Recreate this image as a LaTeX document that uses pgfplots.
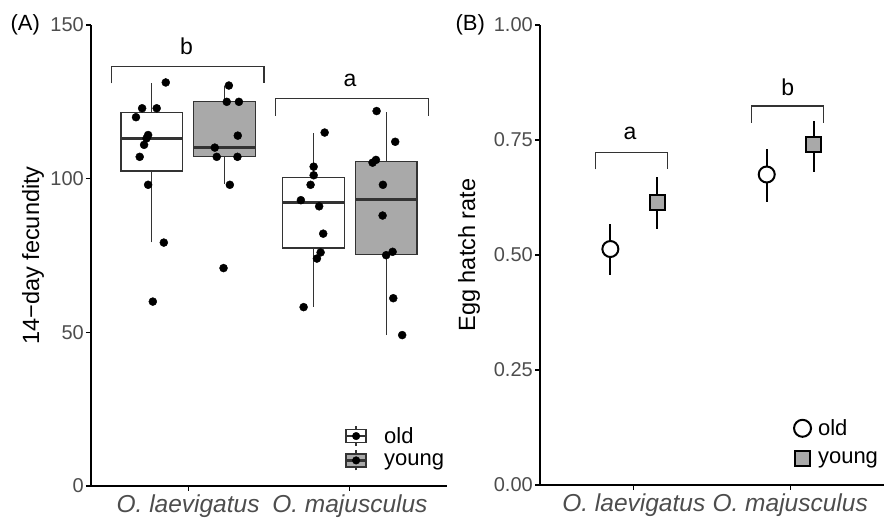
\documentclass[border=0pt]{standalone}
\usepackage{fontspec}
\setmainfont{Liberation Sans}
\usepackage{pgfplots}
\pgfplotsset{compat=1.18}
\definecolor{boxgrey}{HTML}{A9A9A9}
\definecolor{gtxt}{HTML}{4D4D4D}
\definecolor{gline}{HTML}{333333}
\pgfplotsset{
 panel/.style={
  scale only axis, axis lines=left, axis line style={-, line width=1.3pt, black},
  tick align=outside, major tick length=5pt, tick style={line width=1.1pt, black},
  xmin=0.4, xmax=2.6, xtick={1,2},
  xticklabels={\textit{O. laevigatus},\textit{O. majusculus}},
  xticklabel style={font=\fontsize{24.5}{24.5}\selectfont, text=gtxt, inner sep=1pt, yshift=-3pt},
  yticklabel style={font=\fontsize{20}{20}\selectfont, text=gtxt, inner sep=2pt},
  ylabel style={font=\fontsize{23.5}{23.5}\selectfont, anchor=center},
  /pgf/number format/assume math mode=true,
  clip=false,
  legend cell align=left,
  legend style={draw=none, fill=none, inner sep=0pt, font=\fontsize{22}{22}\selectfont, row sep=3pt},
 },
 bx/.style={draw=gline, line width=1.4pt, forget plot},
 wk/.style={draw=gline, line width=1.6pt, forget plot},
 md/.style={draw=gline, line width=2.8pt, forget plot},
}
\begin{document}
\begin{tikzpicture}
\useasboundingbox (0,0) rectangle (884pt,518pt);
% ---------------- Panel A
\begin{axis}[panel, at={(91pt,32pt)}, anchor=south west, width=356pt, height=461pt,
  ymin=0, ymax=150, ytick={0,50,100,150},
  ylabel={14−day fecundity},
  ylabel style={at={(axis description cs:-0.163,0.5)}},
  legend style={at={(axis description cs:0.713,0.132)}, anchor=north west,
    /tikz/every odd column/.append style={column sep=15pt}},
]
% legend
\addlegendimage{legend image code/.code={
  \draw[gline, line width=1.3pt] (10pt,-10pt)--(10pt,10pt);
  \draw[gline, line width=1.3pt, fill=white] (0pt,-6.5pt) rectangle (20pt,6.5pt);
  \draw[gline, line width=2.2pt] (0pt,0pt)--(20pt,0pt);
  \fill[black] (10pt,0pt) circle (3.8pt);
}}
\addlegendentry{old}
\addlegendimage{legend image code/.code={
  \draw[gline, line width=1.3pt] (10pt,-10pt)--(10pt,10pt);
  \draw[gline, line width=1.3pt, fill=boxgrey] (0pt,-6.5pt) rectangle (20pt,6.5pt);
  \draw[gline, line width=2.2pt] (0pt,0pt)--(20pt,0pt);
  \fill[black] (10pt,0pt) circle (3.8pt);
}}
\addlegendentry{young}
% box: O. laevigatus, old (centre 0.775)
\addplot[wk] coordinates {(0.775,79.3) (0.775,102.5)};
\addplot[wk] coordinates {(0.775,121.6) (0.775,131)};
\addplot[bx, fill=white] coordinates {(0.585,102.5) (0.965,102.5) (0.965,121.6) (0.585,121.6)} -- cycle;
\addplot[md] coordinates {(0.585,113.1) (0.965,113.1)};
% box: O. laevigatus, young (centre 1.225)
\addplot[wk] coordinates {(1.225,98.3) (1.225,107.2)};
\addplot[wk] coordinates {(1.225,125.1) (1.225,130.3)};
\addplot[bx, fill=boxgrey] coordinates {(1.035,107.2) (1.415,107.2) (1.415,125.1) (1.035,125.1)} -- cycle;
\addplot[md] coordinates {(1.035,110.1) (1.415,110.1)};
% box: O. majusculus, old (centre 1.775)
\addplot[wk] coordinates {(1.775,58.3) (1.775,77.4)};
\addplot[wk] coordinates {(1.775,100.3) (1.775,114.7)};
\addplot[bx, fill=white] coordinates {(1.585,77.4) (1.965,77.4) (1.965,100.3) (1.585,100.3)} -- cycle;
\addplot[md] coordinates {(1.585,92.2) (1.965,92.2)};
% box: O. majusculus, young (centre 2.225)
\addplot[wk] coordinates {(2.225,49.1) (2.225,75.4)};
\addplot[wk] coordinates {(2.225,105.6) (2.225,121.8)};
\addplot[bx, fill=boxgrey] coordinates {(2.035,75.4) (2.415,75.4) (2.415,105.6) (2.035,105.6)} -- cycle;
\addplot[md] coordinates {(2.035,93.1) (2.415,93.1)};
% jittered points
\addplot[forget plot, only marks, mark=*, mark size=4pt, mark options={fill=black, draw=black}] coordinates {
(0.862,131.3) (0.716,122.9) (0.806,122.9) (0.678,120) (0.753,114.2) (0.743,113.1) (0.728,111) (0.701,107.1) (0.753,98) (0.850,79.2) (0.782,60)
(1.252,130.3) (1.239,125) (1.314,125) (1.307,114) (1.165,110.1) (1.177,107.1) (1.305,107.1) (1.258,98) (1.219,70.9)
(1.844,115) (1.776,103.9) (1.776,101.1) (1.757,98) (1.697,93) (1.810,91) (1.835,82.1) (1.819,76) (1.796,74) (1.714,58.2)
(2.165,122) (2.280,112) (2.140,105.2) (2.161,106.1) (2.204,98) (2.202,88) (2.264,76.2) (2.224,75.1) (2.268,61.1) (2.323,49.1)
};
% significance brackets
\draw[gline, line width=1.1pt] (axis cs:0.525,131) -- (axis cs:0.525,136.4) -- (axis cs:1.469,136.4) -- (axis cs:1.469,131);
\node[font=\fontsize{23}{23}\selectfont] at (axis cs:0.99,143) {b};
\draw[gline, line width=1.1pt] (axis cs:1.541,120.5) -- (axis cs:1.541,126) -- (axis cs:2.483,126) -- (axis cs:2.483,120.5);
\node[font=\fontsize{23}{23}\selectfont] at (axis cs:2.0,132) {a};
\end{axis}
\node[anchor=west, font=\fontsize{22}{22}\selectfont] at (7pt,493pt) {(A)};
% ---------------- Panel B
\begin{axis}[panel, at={(540pt,33pt)}, anchor=south west, width=344pt, height=460pt,
  ymin=0, ymax=1, ytick={0,0.25,0.5,0.75,1},
  yticklabel style={/pgf/number format/.cd, fixed, fixed zerofill, precision=2},
  ylabel={Egg hatch rate},
  ylabel style={at={(axis description cs:-0.206,0.5)}},
  legend style={at={(axis description cs:0.735,0.147)}, anchor=north west, row sep=11pt,
    /tikz/every odd column/.append style={column sep=4pt}},
]
\addlegendimage{legend image code/.code={
  \draw[black, line width=2pt, fill=white] (8.5pt,0pt) circle (8.5pt);
}}
\addlegendentry{old}
\addlegendimage{legend image code/.code={
  \draw[black, line width=2pt, fill=boxgrey] (1pt,-7.5pt) rectangle (16pt,7.5pt);
}}
\addlegendentry{young}
\addplot[forget plot, only marks, mark=*, mark size=8pt, mark options={fill=white, draw=black, line width=2pt},
  error bars/.cd, y dir=both, y explicit, error mark=none, error bar style={line width=1.8pt, black}]
  coordinates {(0.85,0.513) += (0,0.054) -= (0,0.056) (1.85,0.675) += (0,0.055) -= (0,0.060)};
\addplot[forget plot, only marks, mark=square*, mark size=7.5pt, mark options={fill=boxgrey, draw=black, line width=2pt},
  error bars/.cd, y dir=both, y explicit, error mark=none, error bar style={line width=1.8pt, black}]
  coordinates {(1.15,0.615) += (0,0.055) -= (0,0.059) (2.15,0.741) += (0,0.051) -= (0,0.060)};
\draw[gline, line width=1.1pt] (axis cs:0.753,0.686) -- (axis cs:0.753,0.722) -- (axis cs:1.214,0.722) -- (axis cs:1.214,0.686);
\node[font=\fontsize{23}{23}\selectfont] at (axis cs:0.975,0.764) {a};
\draw[gline, line width=1.1pt] (axis cs:1.754,0.788) -- (axis cs:1.754,0.824) -- (axis cs:2.215,0.824) -- (axis cs:2.215,0.788);
\node[font=\fontsize{23}{23}\selectfont] at (axis cs:1.985,0.864) {b};
\end{axis}
\node[anchor=west, font=\fontsize{22}{22}\selectfont] at (452pt,493pt) {(B)};
\end{tikzpicture}
\end{document}
